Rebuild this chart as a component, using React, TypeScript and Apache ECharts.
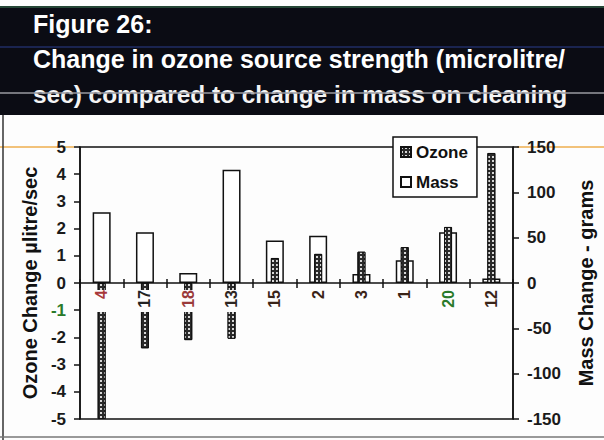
import React, { useEffect, useRef } from "react";
import * as echarts from "echarts";

const categories = ["4", "17", "18", "13", "15", "2", "3", "1", "20", "12"];
const ozoneValues = [-5, -2.4, -2.1, -2.05, 0.92, 1.07, 1.15, 1.32, 2.06, 4.78];
const massValues = [78, 56, 11, 125, 47, 52, 10, 25, 56, 5];
const categoryLabelColors = ["#a8383a", "#222222", "#9a3a3a", "#2e2622", "#3a2418", "#3a2418", "#3a2418", "#3a2418", "#2a7a2a", "#3a2418"];
const titleLines = ["Figure 26:", "Change in ozone source strength (microlitre/", "sec) compared to change in mass on cleaning"];

const FONT = "'Liberation Sans', Arial, sans-serif";
const GRID_TOP = 147;
const GRID_BOTTOM = 21;
const PLOT_H = 440 - GRID_TOP - GRID_BOTTOM;

export default function App() {
  const ref = useRef<HTMLDivElement>(null);
  useEffect(() => {
    if (!ref.current) return;
    const chart = echarts.init(ref.current, undefined, { renderer: "svg" });
    const axisLineStyle = { color: "#111", width: 1.5 };
    const zeroOffset = -PLOT_H / 2;
    chart.setOption({
      animation: false,
      backgroundColor: "#fdfdfd",
      textStyle: { fontFamily: FONT },
      grid: { left: 80, right: 91, top: GRID_TOP, bottom: GRID_BOTTOM, show: true, borderColor: "#111", borderWidth: 1.5, backgroundColor: "transparent" },
      legend: {
        orient: "vertical",
        left: 393,
        top: 137,
        data: ["Ozone", "Mass"],
        backgroundColor: "#fff",
        borderColor: "#111",
        borderWidth: 1.5,
        padding: [5, 9, 5, 7],
        itemWidth: 10,
        itemHeight: 10,
        itemGap: 10,
        icon: "rect",
        textStyle: { fontSize: 17, fontWeight: "bold", color: "#111", fontFamily: FONT, lineHeight: 20 },
        z: 10,
      },
      xAxis: [
        {
          type: "category",
          data: categories,
          position: "bottom",
          offset: zeroOffset,
          axisLine: { show: true, onZero: false, lineStyle: axisLineStyle },
          axisTick: { show: true, length: 5, lineStyle: axisLineStyle },
          axisLabel: {
            rotate: 90,
            margin: 7,
            fontSize: 16,
            fontWeight: "bold",
            fontFamily: FONT,
            width: 22,
            backgroundColor: "#fdfdfd",
            color: (_v: any, i: number) => categoryLabelColors[i] || "#222",
          },
          z: 10,
        },
        {
          type: "category",
          data: categories,
          position: "top",
          offset: zeroOffset,
          axisLine: { show: false, onZero: false },
          axisTick: { show: true, length: 4, lineStyle: axisLineStyle },
          axisLabel: { show: false },
          z: 10,
        },
      ],
      yAxis: [
        {
          type: "value",
          min: -5,
          max: 5,
          interval: 1,
          position: "left",
          splitLine: { show: false },
          axisLine: { show: true, onZero: false, lineStyle: axisLineStyle },
          axisTick: { show: true, length: 6, lineStyle: axisLineStyle },
          axisLabel: {
            margin: 14,
            fontSize: 17,
            fontWeight: "bold",
            fontFamily: FONT,
            color: (v: any) => (Number(v) === -1 ? "#2a7a2a" : "#1a1a1a"),
          },
          name: "Ozone Change µlitre/sec",
          nameLocation: "middle",
          nameRotate: 90,
          nameGap: 40,
          nameTextStyle: { fontSize: 20, fontWeight: "bold", color: "#111", fontFamily: FONT },
        },
        {
          type: "value",
          min: -150,
          max: 150,
          interval: 50,
          position: "right",
          splitLine: { show: false },
          axisLine: { show: true, onZero: false, lineStyle: axisLineStyle },
          axisTick: { show: true, length: 6, lineStyle: axisLineStyle },
          axisLabel: { margin: 14, fontSize: 17, fontWeight: "bold", fontFamily: FONT, color: "#1a1a1a" },
          name: "Mass Change - grams",
          nameLocation: "middle",
          nameRotate: 90,
          nameGap: 63,
          nameTextStyle: { fontSize: 20, fontWeight: "bold", color: "#111", fontFamily: FONT },
        },
      ],
      series: [
        {
          name: "Mass",
          type: "bar",
          xAxisIndex: 0,
          yAxisIndex: 1,
          data: massValues,
          barWidth: 18,
          itemStyle: { color: "#ffffff", borderColor: "#111", borderWidth: 1.5 },
          z: 2,
        },
        {
          name: "Ozone",
          type: "bar",
          xAxisIndex: 1,
          yAxisIndex: 0,
          data: ozoneValues,
          barWidth: 8,
          itemStyle: {
            color: "#2a2a2a",
            borderColor: "#111",
            borderWidth: 1,
            decal: { symbol: "rect", symbolSize: 1, color: "rgba(235,235,235,0.9)", dashArrayX: [1.5, 1.5], dashArrayY: [1.5, 1.5], rotation: 0 },
          },
          z: 3,
        },
      ],
      graphic: [
        { type: "rect", z: -1, shape: { x: 0, y: 6, width: 604, height: 109 }, style: { fill: "#0b0c14" } },
        { type: "line", z: 1, shape: { x1: 0, y1: 7, x2: 604, y2: 7 }, style: { stroke: "#2f5a42", lineWidth: 1.5 } },
        { type: "line", z: 1, shape: { x1: 0, y1: 47, x2: 604, y2: 47 }, style: { stroke: "#1a2450", lineWidth: 2 } },
        { type: "text", z: 2, style: { x: 33, y: 24, text: titleLines[0], fill: "#fff", font: `bold 25px ${FONT}`, textVerticalAlign: "middle" } },
        { type: "text", z: 2, style: { x: 33, y: 59, text: titleLines[1], fill: "#fff", font: `bold 25px ${FONT}`, textVerticalAlign: "middle" } },
        { type: "text", z: 2, style: { x: 33, y: 94, text: titleLines[2], fill: "#f4f4f4", font: `bold 24.4px ${FONT}`, textVerticalAlign: "middle" } },
        { type: "line", z: 3, shape: { x1: 0, y1: 93, x2: 604, y2: 93 }, style: { stroke: "#9a9aa0", lineWidth: 1.5 } },
        { type: "line", z: 1, shape: { x1: 3, y1: 115, x2: 3, y2: 440 }, style: { stroke: "#333", lineWidth: 1.5 } },
        { type: "line", z: 1, shape: { x1: 0, y1: 437, x2: 604, y2: 437 }, style: { stroke: "#777", lineWidth: 1.5 } },
        { type: "line", z: -1, shape: { x1: 0, y1: 147, x2: 74, y2: 147 }, style: { stroke: "#f2c27a", lineWidth: 2 } },
        { type: "line", z: -1, shape: { x1: 517, y1: 147, x2: 604, y2: 147 }, style: { stroke: "#f2c27a", lineWidth: 2 } },
      ],
    });
    return () => chart.dispose();
  }, []);
  return <div ref={ref} style={{ position: "fixed", left: 0, top: 0, width: 604, height: 440 }} />;
}
